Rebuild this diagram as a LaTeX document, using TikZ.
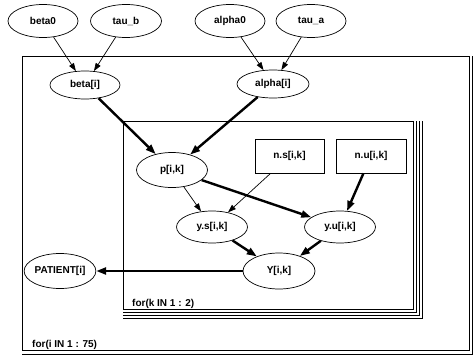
\documentclass[tikz,border=0pt]{standalone}
\usepackage{fontspec}
\setmainfont{Liberation Sans}
\usetikzlibrary{shapes.geometric,arrows.meta}
\begin{document}
\begin{tikzpicture}[x=1pt,y=-1pt,
  lbl/.style={font=\fontsize{10}{12}\selectfont\bfseries},
  var/.style={ellipse,draw,line width=0.7pt,inner sep=0pt,minimum width=70pt,minimum height=33pt,lbl},
  cst/.style={rectangle,draw,line width=0.7pt,inner sep=0pt,minimum width=70pt,minimum height=34pt,lbl},
  thinarr/.style={-{Triangle[length=8pt,width=5.5pt]},line width=0.7pt},
  thickarr/.style={-{Triangle[length=10pt,width=7pt]},line width=2.4pt},
  plate/.style={line width=0.9pt},
  stack/.style={line width=0.6pt}
]
\useasboundingbox (0,0) rectangle (474,359);

% plates
\draw[plate] (22,56) rectangle (469,350);
\draw[stack] (22,354) -- (472,354) -- (472,56);
\draw[plate,fill=white] (123,121) rectangle (413,309);
\foreach \d in {3,6,9} \draw[stack] (123,{309+\d}) -- ({413+\d},{309+\d}) -- ({413+\d},121);

\node[lbl,anchor=base west,inner sep=0pt] (lk) at (132,306) {for(k IN 1 : 2)};
\node[lbl,anchor=base west,inner sep=0pt] (li) at (32,347) {for(i IN 1 : 75)};

% nodes
\node[var] (beta0) at (43,21) {beta0};
\node[var,minimum width=71pt] (taub) at (126,21) {tau\_b};
\node[var] (alpha0) at (230,21) {alpha0};
\node[var] (taua) at (311,21) {tau\_a};
\node[var,minimum height=28pt,fill=white] (beta) at (85,85) {beta[i]};
\node[var,minimum width=72pt,minimum height=28pt,fill=white] (alpha) at (273,84) {alpha[i]};
\node[var,minimum width=71pt,minimum height=35pt] (p) at (172,170) {p[i,k]};
\node[cst,minimum width=69pt] (ns) at (289.5,156) {n.s[i,k]};
\node[cst] (nu) at (371,156) {n.u[i,k]};
\node[var,minimum width=71pt,minimum height=32pt] (ys) at (212,227) {y.s[i,k]};
\node[var,minimum width=71pt,minimum height=32pt] (yu) at (340,227) {y.u[i,k]};
\node[var,minimum width=72pt,minimum height=36pt] (Y) at (279,271) {Y[i,k]};
\node[var,minimum width=68pt,minimum height=35pt] (patient) at (60,271) {PATIENT[i]};

% edges
\draw[thinarr] (beta0) -- (beta);
\draw[thinarr] (taub) -- (beta);
\draw[thinarr] (alpha0) -- (alpha);
\draw[thinarr] (taua) -- (alpha);
\draw[thickarr] (beta) -- (p);
\draw[thickarr] (alpha) -- (p);
\draw[thinarr] (p) -- (ys);
\draw[thickarr] (p) -- (yu);
\draw[thinarr] (ns) -- (ys);
\draw[thickarr] (nu) -- (yu);
\draw[thickarr] (ys) -- (Y);
\draw[thickarr] (yu) -- (Y);
\draw[thickarr] (Y) -- (patient);
\end{tikzpicture}
\end{document}
